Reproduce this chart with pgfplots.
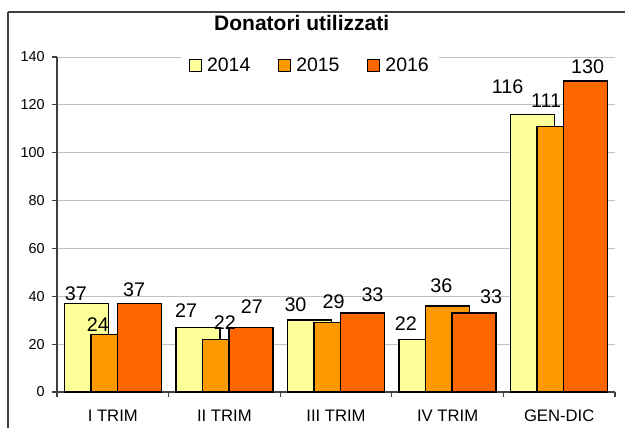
\documentclass[border=0pt]{standalone}
\usepackage{pgfplots}
\pgfplotsset{compat=1.18}
\usepackage{pgfplotstable}
\usepackage{fontspec}
\setmainfont{Liberation Sans}
\definecolor{cA}{HTML}{FFFF99}
\definecolor{cB}{HTML}{FF9900}
\definecolor{cC}{HTML}{FF6600}
\definecolor{gridc}{HTML}{C0C0C0}
\definecolor{axc}{HTML}{404040}

\pgfplotstableread{
x y
0 37
1 27
2 30
3 22
4 116
}\dA
\pgfplotstableread{
x y
0 24
1 22
2 29
3 36
4 111
}\dB
\pgfplotstableread{
x y
0 37
1 27
2 33
3 33
4 130
}\dC
\pgfplotstableread{
x y lab
-0.330 38.4 37
-0.133 25.1 24
0.190 40.1 37
0.656 31.3 27
1.005 26.3 22
1.247 33.0 27
1.637 33.8 30
1.978 34.7 29
2.327 38.0 33
2.627 25.9 22
2.945 41.4 36
3.389 36.8 33
3.537 124.9 116
3.882 119.1 111
4.254 133.3 130
}\dL

\begin{document}
\begin{tikzpicture}
\begin{axis}[
  at={(0pt,0pt)}, anchor=south west,
  scale only axis,
  width=418.5pt, height=251.25pt,
  xmin=-0.5, xmax=4.5,
  ymin=0, ymax=140,
  clip=false,
  axis x line*=bottom, axis y line*=left,
  axis line style={axc, line width=0.8pt},
  ytick={0,20,...,140},
  xtick={0,1,2,3,4},
  xticklabels={I TRIM, II TRIM, III TRIM, IV TRIM, GEN-DIC},
  minor xtick={-0.5,0.5,1.5,2.5,3.5,4.5},
  tick align=outside,
  major tick length=3.75pt,
  minor tick length=3.75pt,
  x tick style={draw=none},
  minor x tick style={draw=axc, line width=0.8pt},
  y tick style={axc, line width=0.8pt},
  ymajorgrids,
  major grid style={gridc, line width=0.6pt},
  yticklabel style={font=\fontsize{10.8}{12}\selectfont, xshift=-2pt},
  xticklabel style={font=\fontsize{12.5}{14}\selectfont, anchor=base, yshift=-18.75pt},
  /pgf/number format/assume math mode=true,
  title={Donatori utilizzati},
  title style={at={(axis description cs:0.4385,1.0567)}, anchor=base,
    font=\bfseries\fontsize{15.75}{18}\selectfont, inner sep=0pt},
  legend columns=-1,
  legend style={at={(axis description cs:0.4534,0.9746)}, anchor=center,
    fill=white, draw=none, font=\fontsize{14.6}{16}\selectfont,
    inner xsep=6pt, inner ysep=1pt,
    /tikz/every even column/.append style={column sep=18.5pt}},
  legend image code/.code={\draw[#1, draw=black, line width=0.8pt] (0pt,-4.5pt) rectangle (9pt,4.5pt); \path[draw=none, fill=none] (11.5pt,0pt);},
]
\addplot[ybar, bar width=0.394, bar shift=-0.237, fill=cA, draw=black, line width=1.1pt] table[x=x,y=y] {\dA};
\addlegendentry{2014}
\addplot[ybar, bar width=0.394, bar shift=0, fill=cB, draw=black, line width=1.1pt] table[x=x,y=y] {\dB};
\addlegendentry{2015}
\addplot[ybar, bar width=0.394, bar shift=0.237, fill=cC, draw=black, line width=1.1pt] table[x=x,y=y] {\dC};
\addlegendentry{2016}
\addplot[draw=none, mark=none, forget plot,
  nodes near coords, point meta=explicit symbolic,
  nodes near coords align={anchor=base},
  every node near coord/.append style={anchor=base, inner sep=0pt, font=\fontsize{14.8}{16}\selectfont}]
  table[x=x, y=y, meta=lab] {\dL};
\end{axis}
\draw[axc, line width=1.4pt] (-36.75pt,285.2pt) -- (-36.75pt,-27pt);
\draw[axc, line width=1.4pt] (-36.75pt,285.2pt) -- (426pt,285.2pt);
\pgfresetboundingbox
\path[use as bounding box] (-42.75pt,-27pt) rectangle (426pt,294pt);
\end{tikzpicture}
\end{document}
